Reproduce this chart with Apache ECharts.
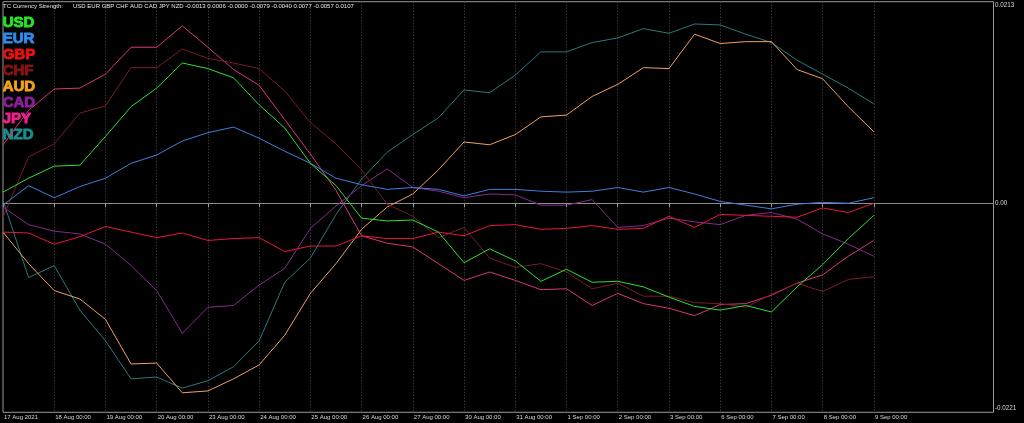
<!DOCTYPE html>
<html>
<head>
<meta charset="utf-8">
<script src="https://cdn.jsdelivr.net/npm/echarts@6/dist/echarts.min.js"></script>
<style>
html,body{margin:0;padding:0;background:#000;}
#chart{width:1024px;height:423px;}
</style>
</head>
<body>
<div id="chart"></div>
<script>
// Tick labels at every full day (every 2nd half-day slot)
const dateLabels = ['17 Aug 2021','18 Aug 00:00','19 Aug 00:00','20 Aug 00:00','23 Aug 00:00','24 Aug 00:00','25 Aug 00:00','26 Aug 00:00','27 Aug 00:00','30 Aug 00:00','31 Aug 00:00','1 Sep 00:00','2 Sep 00:00','3 Sep 00:00','6 Sep 00:00','7 Sep 00:00','8 Sep 00:00','9 Sep 00:00'];
const yTickValues = [0.0213, 0, -0.0221];
const yTickLabels = ['0.0213', '0.00', '-0.0221'];

const currencies = ['USD','EUR','GBP','CHF','AUD','CAD','JPY','NZD'];
const headerValues = ['-0.0013','0.0006','-0.0000','-0.0079','-0.0040','0.0077','-0.0057','0.0107'];

// Values sampled every half day (17 Aug 00:00 ... 9 Sep 00:00)
const usd = [0.0012,0.0027,0.0040,0.0041,0.0072,0.0104,0.0124,0.0151,0.0145,0.0135,0.0106,0.0081,0.0043,0.0019,-0.0016,-0.0019,-0.0018,-0.0031,-0.0064,-0.0049,-0.0062,-0.0084,-0.0071,-0.0085,-0.0084,-0.0090,-0.0101,-0.0111,-0.0115,-0.0110,-0.0117,-0.0090,-0.0066,-0.0038,-0.0013];
const eur = [-0.0002,0.0019,0.0006,0.0018,0.0027,0.0043,0.0052,0.0067,0.0076,0.0082,0.0070,0.0056,0.0043,0.0027,0.0020,0.0015,0.0017,0.0015,0.0008,0.0015,0.0015,0.0013,0.0012,0.0013,0.0017,0.0012,0.0017,0.0010,0.0002,-0.0002,-0.0006,-0.0001,0.0001,0.0000,0.0006];
const gbp = [-0.0031,-0.0032,-0.0044,-0.0036,-0.0025,-0.0031,-0.0037,-0.0032,-0.0040,-0.0038,-0.0037,-0.0052,-0.0046,-0.0046,-0.0035,-0.0038,-0.0038,-0.0031,-0.0035,-0.0024,-0.0023,-0.0028,-0.0027,-0.0024,-0.0028,-0.0027,-0.0014,-0.0026,-0.0012,-0.0013,-0.0014,-0.0015,-0.0005,-0.0010,-0.0000];
const chf = [-0.0015,0.0050,0.0064,0.0097,0.0105,0.0146,0.0146,0.0166,0.0156,0.0151,0.0145,0.0121,0.0087,0.0064,0.0036,-0.0001,-0.0014,-0.0037,-0.0026,-0.0059,-0.0069,-0.0065,-0.0074,-0.0092,-0.0086,-0.0100,-0.0100,-0.0107,-0.0108,-0.0112,-0.0098,-0.0086,-0.0095,-0.0082,-0.0079];
const aud = [-0.0031,-0.0065,-0.0094,-0.0103,-0.0125,-0.0173,-0.0172,-0.0204,-0.0202,-0.0189,-0.0174,-0.0142,-0.0097,-0.0065,-0.0028,-0.0004,0.0010,0.0036,0.0066,0.0063,0.0074,0.0093,0.0095,0.0115,0.0128,0.0146,0.0145,0.0182,0.0172,0.0174,0.0174,0.0144,0.0134,0.0104,0.0077];
const cad = [-0.0004,-0.0023,-0.0030,-0.0033,-0.0044,-0.0067,-0.0094,-0.0140,-0.0112,-0.0110,-0.0088,-0.0070,-0.0027,-0.0003,0.0019,0.0037,0.0017,0.0013,0.0006,0.0010,0.0009,-0.0002,-0.0002,0.0004,-0.0026,-0.0024,-0.0016,-0.0020,-0.0023,-0.0013,-0.0010,-0.0017,-0.0033,-0.0044,-0.0057];
const jpy = [0.0063,0.0100,0.0123,0.0124,0.0139,0.0168,0.0168,0.0191,0.0168,0.0144,0.0127,0.0090,0.0053,0.0014,-0.0035,-0.0043,-0.0047,-0.0065,-0.0083,-0.0074,-0.0083,-0.0093,-0.0092,-0.0110,-0.0097,-0.0108,-0.0113,-0.0121,-0.0109,-0.0108,-0.0099,-0.0086,-0.0077,-0.0057,-0.0040];
const nzd = [0.0003,-0.0080,-0.0067,-0.0115,-0.0148,-0.0189,-0.0187,-0.0199,-0.0191,-0.0176,-0.0148,-0.0085,-0.0059,-0.0012,0.0026,0.0055,0.0074,0.0092,0.0122,0.0119,0.0138,0.0163,0.0163,0.0173,0.0178,0.0188,0.0183,0.0193,0.0192,0.0182,0.0173,0.0154,0.0139,0.0124,0.0107];

const legendColors = ['#22e622','#2d8cf0','#ee1111','#8a1414','#f5a11c','#8e1f9c','#f0208c','#1a8e8e'];
const lineColors   = ['#2ee02e','#3f7fe0','#e8183a','#7a1c24','#f0a060','#8a2a8e','#d8367e','#2a7a7a'];

const seriesValues = [usd, eur, gbp, chf, aud, cad, jpy, nzd];

const chart = echarts.init(document.getElementById('chart'), null, {renderer: 'canvas'});

const smallFont = 'Liberation Sans';
const series = currencies.map((name, i) => {
  const s = {
    name: name,
    type: 'line',
    data: seriesValues[i].map((v, k) => [k, v]),
    showSymbol: false,
    symbol: 'none',
    smooth: false,
    lineStyle: {color: lineColors[i], width: 1},
    itemStyle: {color: legendColors[i]},
    animation: false,
    silent: true,
    z: 3 + (8 - i)
  };
  if (i === 0) {
    s.markLine = {
      silent: true,
      symbol: 'none',
      label: {show: false},
      lineStyle: {color: '#8c8c8c', type: 'solid', width: 1},
      data: [{yAxis: 0}],
      animation: false
    };
  }
  return s;
});

const labelTicks = dateLabels.map((_, j) => j * 2);

chart.setOption({
  backgroundColor: '#000000',
  animation: false,
  title: [
    {text: 'TC Currency Strength:', left: 3, top: 2, padding: 0,
     textStyle: {color: '#e8e8e8', fontSize: 6, fontWeight: 'normal', fontFamily: smallFont, lineHeight: 8}},
    {text: currencies.join(' ') + ' ' + headerValues.join(' '), left: 73, top: 2, padding: 0,
     textStyle: {color: '#e8e8e8', fontSize: 6, fontWeight: 'normal', fontFamily: smallFont, lineHeight: 8}}
  ],
  legend: {
    orient: 'vertical',
    left: -2.3,
    top: 14.9,
    padding: 0,
    itemGap: 0,
    itemWidth: 0,
    itemHeight: 0,
    icon: 'none',
    selectedMode: false,
    data: currencies.map((c, i) => ({name: c, textStyle: {color: legendColors[i], textBorderColor: legendColors[i], textBorderWidth: 0.9}})),
    textStyle: {fontSize: 15, fontWeight: 'bold', fontFamily: 'Liberation Sans', lineHeight: 16.05}
  },
  grid: {
    left: 1.5, right: 30.5, top: 1.7, bottom: 10.7,
    show: true, borderColor: '#9a9a9a', borderWidth: 1, containLabel: false
  },
  xAxis: {
    type: 'value',
    min: 0,
    max: 38.67,
    interval: 1,
    axisLine: {show: true, lineStyle: {color: '#9a9a9a'}},
    axisTick: {show: true, customValues: labelTicks, length: 4, lineStyle: {color: '#9a9a9a'}},
    axisLabel: {
      show: true,
      customValues: labelTicks,
      formatter: v => dateLabels[Math.round(v / 2)] || '',
      align: 'left',
      margin: 1.5,
      color: '#d8d8d8',
      fontSize: 6,
      lineHeight: 8,
      fontFamily: smallFont,
      padding: [0, 0, 0, 1]
    },
    splitLine: {show: true, lineStyle: {color: '#4e4e4e', type: [1, 2], width: 1}}
  },
  yAxis: {
    type: 'value',
    position: 'right',
    min: -0.0225,
    max: 0.0217,
    axisLine: {show: false},
    axisTick: {show: false},
    splitLine: {show: false},
    axisLabel: {
      show: true,
      customValues: yTickValues,
      formatter: v => {
        const idx = yTickValues.findIndex(t => Math.abs(t - v) < 1e-9);
        return idx >= 0 ? yTickLabels[idx] : '';
      },
      margin: 1.5,
      color: '#d8d8d8',
      fontSize: 6.3,
      fontFamily: smallFont
    }
  },
  series: series
});
</script>
</body>
</html>
